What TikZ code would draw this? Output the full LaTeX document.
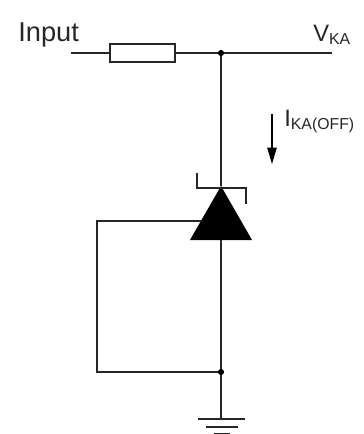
\documentclass[tikz,border=0pt]{standalone}
\usepackage{fontspec}
\setmainfont{Liberation Sans}
\usetikzlibrary{arrows.meta}
\tikzset{
    wire/.style={line width=0.85pt, draw=black!85},
    label/.style={inner sep=0pt, text=black!85},
    resistor/.style={draw=black!85, line width=0.95pt, fill=white, minimum width=1.3cm, minimum height=0.36cm, inner sep=0pt},
    dot/.style={circle, fill=black, inner sep=0pt, minimum size=3.5pt}
}
\newcommand{\lowtext}[1]{\raisebox{-0.13em}{\fontsize{9}{9}\selectfont #1}}
\begin{document}
\begin{tikzpicture}[x=0.02cm,y=-0.02cm]
            \useasboundingbox (0,0) rectangle (364,434);
            % top rail
            \coordinate (in) at (71,53);
            \coordinate (out) at (332,53);
            \node[resistor] (res) at (142.5,53) {};
            \node[dot] (top) at (221,53) {};
            \draw[wire] (in) -- (res);
            \draw[wire] (res) -- (top);
            \draw[wire] (top) -- (out);
            % diode
            \coordinate (apex) at (221,186);
            \coordinate (baseL) at (190,240);
            \coordinate (baseR) at (252,240);
            \coordinate (baseM) at (221,240);
            \fill (apex) -- (baseL) -- (baseR) -- cycle;
            \draw[wire] (top) -- (apex);
            \coordinate (barL) at (197,188);
            \coordinate (barR) at (246,188);
            \coordinate (tickL) at (197,173);
            \coordinate (tickR) at (246,204);
            \draw[wire] (tickL) -- (barL) -- (barR) -- (tickR);
            % feedback loop
            \node[dot] (low) at (221,372) {};
            \coordinate (ref) at (202,221);
            \coordinate (refC) at (97,221);
            \coordinate (lowC) at (97,372);
            \draw[wire] (baseM) -- (low);
            \draw[wire] (ref) -- (refC) -- (lowC) -- (low);
            % ground
            \coordinate (gnd) at (221,419);
            \draw[wire] (low) -- (gnd);
            \coordinate (g1L) at (198,419);
            \coordinate (g1R) at (245,419);
            \coordinate (g2L) at (206,427);
            \coordinate (g2R) at (238,427);
            \coordinate (g3L) at (214,434);
            \coordinate (g3R) at (230,434);
            \draw[wire] (g1L) -- (g1R);
            \draw[wire] (g2L) -- (g2R);
            \draw[wire] (g3L) -- (g3R);
            % current arrow
            \coordinate (curA) at (272,114);
            \coordinate (curB) at (272,164);
            \draw[-{Triangle[length=3.3mm,width=1.9mm]}, line width=0.7pt] (curA) -- (curB);
            % labels
            \node[label, anchor=base west] (input) at (18,41) {\fontsize{15.5}{16}\selectfont Input};
            \node[label, anchor=base west] (vka) at (313,41) {\fontsize{13.5}{14}\selectfont V\lowtext{KA}};
            \node[label, anchor=base west] (ika) at (284,126) {\fontsize{13.5}{14}\selectfont I\lowtext{KA(OFF)}};
\end{tikzpicture}
\end{document}
